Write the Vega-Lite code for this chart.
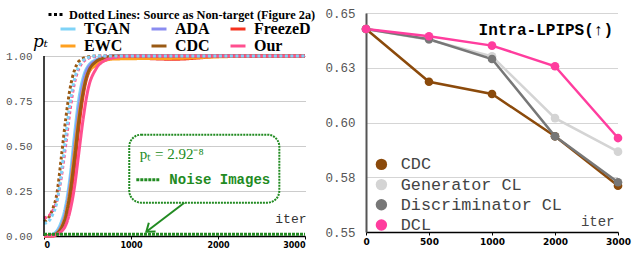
{
  "$schema": "https://vega.github.io/schema/vega-lite/v6.json",
  "background": "white",
  "padding": {"left": 5, "top": 6, "right": 5, "bottom": 5},
  "spacing": 13,
  "resolve": {"scale": {"color": "independent", "x": "independent", "y": "independent"}, "legend": {"color": "independent"}},
  "config": {"view": {"stroke": null}, "font": "Liberation Mono"},
  "datasets": {
    "curves": [
      {"m":"TGAN","k":"solid","x":0,"y":0},{"m":"TGAN","k":"solid","x":100,"y":0.01},{"m":"TGAN","k":"solid","x":150,"y":0.03},{"m":"TGAN","k":"solid","x":200,"y":0.08},{"m":"TGAN","k":"solid","x":250,"y":0.17},{"m":"TGAN","k":"solid","x":300,"y":0.33},{"m":"TGAN","k":"solid","x":350,"y":0.56},{"m":"TGAN","k":"solid","x":400,"y":0.76},{"m":"TGAN","k":"solid","x":450,"y":0.88},{"m":"TGAN","k":"solid","x":500,"y":0.94},{"m":"TGAN","k":"solid","x":600,"y":0.98},{"m":"TGAN","k":"solid","x":700,"y":0.995},{"m":"TGAN","k":"solid","x":800,"y":1},{"m":"TGAN","k":"solid","x":1000,"y":1},{"m":"TGAN","k":"solid","x":2000,"y":1},{"m":"TGAN","k":"solid","x":3000,"y":1},
      {"m":"ADA","k":"solid","x":0,"y":0},{"m":"ADA","k":"solid","x":100,"y":0.005},{"m":"ADA","k":"solid","x":150,"y":0.02},{"m":"ADA","k":"solid","x":200,"y":0.06},{"m":"ADA","k":"solid","x":250,"y":0.14},{"m":"ADA","k":"solid","x":300,"y":0.29},{"m":"ADA","k":"solid","x":350,"y":0.5},{"m":"ADA","k":"solid","x":400,"y":0.71},{"m":"ADA","k":"solid","x":450,"y":0.85},{"m":"ADA","k":"solid","x":500,"y":0.93},{"m":"ADA","k":"solid","x":600,"y":0.975},{"m":"ADA","k":"solid","x":700,"y":0.993},{"m":"ADA","k":"solid","x":800,"y":1},{"m":"ADA","k":"solid","x":1000,"y":1},{"m":"ADA","k":"solid","x":2000,"y":1},{"m":"ADA","k":"solid","x":3000,"y":1},
      {"m":"FreezeD","k":"solid","x":0,"y":0},{"m":"FreezeD","k":"solid","x":100,"y":0},{"m":"FreezeD","k":"solid","x":150,"y":0.01},{"m":"FreezeD","k":"solid","x":200,"y":0.03},{"m":"FreezeD","k":"solid","x":250,"y":0.09},{"m":"FreezeD","k":"solid","x":300,"y":0.2},{"m":"FreezeD","k":"solid","x":350,"y":0.38},{"m":"FreezeD","k":"solid","x":400,"y":0.6},{"m":"FreezeD","k":"solid","x":450,"y":0.78},{"m":"FreezeD","k":"solid","x":500,"y":0.89},{"m":"FreezeD","k":"solid","x":600,"y":0.96},{"m":"FreezeD","k":"solid","x":700,"y":0.985},{"m":"FreezeD","k":"solid","x":800,"y":0.995},{"m":"FreezeD","k":"solid","x":1000,"y":0.995},{"m":"FreezeD","k":"solid","x":1200,"y":0.986},{"m":"FreezeD","k":"solid","x":1500,"y":0.982},{"m":"FreezeD","k":"solid","x":1800,"y":0.99},{"m":"FreezeD","k":"solid","x":2000,"y":0.998},{"m":"FreezeD","k":"solid","x":3000,"y":1},
      {"m":"EWC","k":"solid","x":0,"y":0},{"m":"EWC","k":"solid","x":100,"y":0.005},{"m":"EWC","k":"solid","x":150,"y":0.015},{"m":"EWC","k":"solid","x":200,"y":0.05},{"m":"EWC","k":"solid","x":250,"y":0.12},{"m":"EWC","k":"solid","x":300,"y":0.26},{"m":"EWC","k":"solid","x":350,"y":0.46},{"m":"EWC","k":"solid","x":400,"y":0.66},{"m":"EWC","k":"solid","x":450,"y":0.81},{"m":"EWC","k":"solid","x":500,"y":0.9},{"m":"EWC","k":"solid","x":600,"y":0.95},{"m":"EWC","k":"solid","x":700,"y":0.975},{"m":"EWC","k":"solid","x":800,"y":0.983},{"m":"EWC","k":"solid","x":1000,"y":0.985},{"m":"EWC","k":"solid","x":1500,"y":0.987},{"m":"EWC","k":"solid","x":2000,"y":0.995},{"m":"EWC","k":"solid","x":2500,"y":1},{"m":"EWC","k":"solid","x":3000,"y":1},
      {"m":"CDC","k":"solid","x":0,"y":0},{"m":"CDC","k":"solid","x":100,"y":0.003},{"m":"CDC","k":"solid","x":150,"y":0.015},{"m":"CDC","k":"solid","x":200,"y":0.045},{"m":"CDC","k":"solid","x":250,"y":0.11},{"m":"CDC","k":"solid","x":300,"y":0.24},{"m":"CDC","k":"solid","x":350,"y":0.43},{"m":"CDC","k":"solid","x":400,"y":0.64},{"m":"CDC","k":"solid","x":450,"y":0.8},{"m":"CDC","k":"solid","x":500,"y":0.9},{"m":"CDC","k":"solid","x":600,"y":0.97},{"m":"CDC","k":"solid","x":700,"y":0.99},{"m":"CDC","k":"solid","x":800,"y":1},{"m":"CDC","k":"solid","x":1000,"y":1},{"m":"CDC","k":"solid","x":2000,"y":1},{"m":"CDC","k":"solid","x":3000,"y":1},
      {"m":"Our","k":"solid","x":0,"y":0},{"m":"Our","k":"solid","x":100,"y":0},{"m":"Our","k":"solid","x":150,"y":0.01},{"m":"Our","k":"solid","x":200,"y":0.025},{"m":"Our","k":"solid","x":250,"y":0.06},{"m":"Our","k":"solid","x":300,"y":0.14},{"m":"Our","k":"solid","x":350,"y":0.27},{"m":"Our","k":"solid","x":400,"y":0.46},{"m":"Our","k":"solid","x":450,"y":0.65},{"m":"Our","k":"solid","x":500,"y":0.8},{"m":"Our","k":"solid","x":600,"y":0.93},{"m":"Our","k":"solid","x":700,"y":0.975},{"m":"Our","k":"solid","x":800,"y":0.99},{"m":"Our","k":"solid","x":1000,"y":1},{"m":"Our","k":"solid","x":2000,"y":1},{"m":"Our","k":"solid","x":3000,"y":1},
      {"m":"CDC","k":"dotted","x":0,"y":0.08},{"m":"CDC","k":"dotted","x":50,"y":0.1},{"m":"CDC","k":"dotted","x":100,"y":0.15},{"m":"CDC","k":"dotted","x":150,"y":0.24},{"m":"CDC","k":"dotted","x":200,"y":0.44},{"m":"CDC","k":"dotted","x":250,"y":0.65},{"m":"CDC","k":"dotted","x":300,"y":0.82},{"m":"CDC","k":"dotted","x":350,"y":0.92},{"m":"CDC","k":"dotted","x":400,"y":0.97},{"m":"CDC","k":"dotted","x":500,"y":0.995},{"m":"CDC","k":"dotted","x":600,"y":1},{"m":"CDC","k":"dotted","x":1000,"y":1},{"m":"CDC","k":"dotted","x":3000,"y":1},
      {"m":"Our","k":"dotted","x":0,"y":0.1},{"m":"Our","k":"dotted","x":50,"y":0.11},{"m":"Our","k":"dotted","x":100,"y":0.14},{"m":"Our","k":"dotted","x":150,"y":0.2},{"m":"Our","k":"dotted","x":200,"y":0.33},{"m":"Our","k":"dotted","x":250,"y":0.51},{"m":"Our","k":"dotted","x":300,"y":0.7},{"m":"Our","k":"dotted","x":350,"y":0.85},{"m":"Our","k":"dotted","x":400,"y":0.93},{"m":"Our","k":"dotted","x":500,"y":0.985},{"m":"Our","k":"dotted","x":600,"y":0.998},{"m":"Our","k":"dotted","x":700,"y":1},{"m":"Our","k":"dotted","x":1000,"y":1},{"m":"Our","k":"dotted","x":3000,"y":1},
      {"m":"TGAN","k":"dotted","x":0,"y":0.07},{"m":"TGAN","k":"dotted","x":50,"y":0.08},{"m":"TGAN","k":"dotted","x":100,"y":0.12},{"m":"TGAN","k":"dotted","x":150,"y":0.19},{"m":"TGAN","k":"dotted","x":200,"y":0.35},{"m":"TGAN","k":"dotted","x":250,"y":0.55},{"m":"TGAN","k":"dotted","x":300,"y":0.74},{"m":"TGAN","k":"dotted","x":350,"y":0.87},{"m":"TGAN","k":"dotted","x":400,"y":0.94},{"m":"TGAN","k":"dotted","x":500,"y":0.99},{"m":"TGAN","k":"dotted","x":600,"y":1},{"m":"TGAN","k":"dotted","x":1000,"y":1},{"m":"TGAN","k":"dotted","x":3000,"y":1}
    ],
    "yline": [{"x":0,"y":0,"y2":1}],
    "noise": [{"x":0,"y":0.01},{"x":3000,"y":0.01}],
    "box": [{"x":980,"x2":2705,"y":0.563,"y2":0.185}],
    "arrow": [{"x":1613,"y":0.185,"x2":1176,"y2":0.024}],
    "arrowhead": [{"x":1176,"y":0.024}],
    "sample": [{"x":1061,"x2":1325,"y":0.313}],
    "ptext": [{"x":1100,"y":0.457,"t":"pₜ = 2.92⁻⁸"}],
    "ntext": [{"x":1441,"y":0.313,"t":"Noise Images"}],
    "lpips": [
      {"m":"CDC","iter":"0","v":0.6427},{"m":"CDC","iter":"500","v":0.6186},{"m":"CDC","iter":"1000","v":0.613},{"m":"CDC","iter":"2000","v":0.5937},{"m":"CDC","iter":"3000","v":0.5711},
      {"m":"Generator CL","iter":"0","v":0.6427},{"m":"Generator CL","iter":"500","v":0.6378},{"m":"Generator CL","iter":"1000","v":0.6302},{"m":"Generator CL","iter":"2000","v":0.602},{"m":"Generator CL","iter":"3000","v":0.5867},
      {"m":"Discriminator CL","iter":"0","v":0.6427},{"m":"Discriminator CL","iter":"500","v":0.638},{"m":"Discriminator CL","iter":"1000","v":0.629},{"m":"Discriminator CL","iter":"2000","v":0.5937},{"m":"Discriminator CL","iter":"3000","v":0.5727},
      {"m":"DCL","iter":"0","v":0.6427},{"m":"DCL","iter":"500","v":0.6394},{"m":"DCL","iter":"1000","v":0.6351},{"m":"DCL","iter":"2000","v":0.6257},{"m":"DCL","iter":"3000","v":0.5929}
    ],
    "rtitle": [{"iter":"3000","v":0.6422,"t":"Intra-LPIPS(↑)"}]
  },
  "hconcat": [
    {
      "width": 261,
      "height": 223,
      "layer": [
        {
          "data": {"name": "curves"},
          "mark": {"type": "line", "interpolate": "monotone", "strokeWidth": 3},
          "encoding": {
            "x": {"field": "x", "type": "quantitative", "scale": {"domain": [0, 3000], "nice": false},
              "axis": {"values": [0, 1000, 2000, 3000], "format": "d", "labelFont": "DejaVu Sans", "labelFontWeight": "bold", "labelFontSize": 8, "labelColor": "black", "domainColor": "black", "domainWidth": 1.5, "tickColor": "black", "tickSize": 3, "grid": false,
                "title": "iter", "titleFont": "Liberation Mono", "titleFontWeight": "normal", "titleFontSize": 13, "titleColor": "#333", "titleAlign": "right", "titleX": 262, "titleY": -18, "titleBaseline": "middle"}},
            "y": {"field": "y", "type": "quantitative", "scale": {"domain": [0, 1.2389], "nice": false},
              "axis": {"values": [0, 0.25, 0.5, 0.75, 1], "format": ".2f", "labelFont": "Liberation Mono", "labelFontSize": 11, "labelColor": "#555", "ticks": false, "labelPadding": 12, "domain": false, "grid": true, "gridColor": "#999", "gridDash": [1, 1],
                "title": "pₜ", "titleFont": "DejaVu Serif", "titleFontStyle": "italic", "titleFontWeight": "normal", "titleFontSize": 17, "titleAngle": 0, "titleX": -4, "titleY": 33, "titleAlign": "center", "titleBaseline": "alphabetic", "titleColor": "black"}},
            "color": {"field": "m", "type": "nominal",
              "scale": {"domain": ["TGAN", "ADA", "FreezeD", "EWC", "CDC", "Our"], "range": ["#7fd3f7", "#8a8cf0", "#f5321e", "#ffa020", "#9a5a14", "#ff4f8f"]},
              "legend": {"orient": "none", "legendX": 15, "legendY": 7, "columns": 3, "direction": "horizontal", "title": null, "symbolType": "stroke", "symbolSize": 225, "symbolStrokeWidth": 3, "labelFont": "Liberation Serif", "labelFontWeight": "bold", "labelFontSize": 16, "labelColor": "black", "labelOffset": 7, "columnPadding": 14, "rowPadding": 0, "padding": 0}},
            "strokeDash": {"field": "k", "type": "nominal",
              "scale": {"domain": ["solid", "dotted"], "range": [[1, 0], [3, 2.5]]},
              "legend": {"orient": "none", "legendX": 3, "legendY": -7, "values": ["dotted"], "title": null, "labelExpr": "'Dotted Lines: Source as Non-target (Figure 2a)'", "labelLimit": 400, "symbolType": "stroke", "symbolSize": 196, "symbolStrokeColor": "black", "symbolStrokeWidth": 3, "labelFont": "Liberation Serif", "labelFontWeight": "bold", "labelFontSize": 12.3, "labelColor": "black", "labelOffset": 5, "padding": 0}}
          }
        },
        {
          "data": {"name": "yline"},
          "mark": {"type": "rule", "color": "black", "strokeWidth": 1.5},
          "encoding": {"x": {"field": "x", "type": "quantitative"}, "y": {"field": "y", "type": "quantitative"}, "y2": {"field": "y2"}}
        },
        {
          "data": {"name": "noise"},
          "mark": {"type": "line", "color": "#228b22", "strokeWidth": 3, "strokeDash": [3, 1]},
          "encoding": {"x": {"field": "x", "type": "quantitative"}, "y": {"field": "y", "type": "quantitative"}}
        },
        {
          "data": {"name": "box"},
          "mark": {"type": "rect", "cornerRadius": 12, "fill": null, "stroke": "#228b22", "strokeWidth": 2, "strokeDash": [2, 1]},
          "encoding": {"x": {"field": "x", "type": "quantitative"}, "x2": {"field": "x2"}, "y": {"field": "y", "type": "quantitative"}, "y2": {"field": "y2"}}
        },
        {
          "data": {"name": "arrow"},
          "mark": {"type": "rule", "color": "#228b22", "strokeWidth": 2},
          "encoding": {"x": {"field": "x", "type": "quantitative"}, "x2": {"field": "x2"}, "y": {"field": "y", "type": "quantitative"}, "y2": {"field": "y2"}}
        },
        {
          "data": {"name": "arrowhead"},
          "mark": {"type": "point", "shape": "M -1 -0.75 L 0 0 L -1 0.75", "angle": 142.7, "size": 220, "filled": false, "stroke": "#228b22", "strokeWidth": 2, "opacity": 1},
          "encoding": {"x": {"field": "x", "type": "quantitative"}, "y": {"field": "y", "type": "quantitative"}}
        },
        {
          "data": {"name": "sample"},
          "mark": {"type": "rule", "color": "#228b22", "strokeWidth": 3, "strokeDash": [3, 1]},
          "encoding": {"x": {"field": "x", "type": "quantitative"}, "x2": {"field": "x2"}, "y": {"field": "y", "type": "quantitative"}}
        },
        {
          "data": {"name": "ptext"},
          "mark": {"type": "text", "align": "left", "baseline": "middle", "font": "Liberation Serif", "fontSize": 15, "color": "#228b22"},
          "encoding": {"x": {"field": "x", "type": "quantitative"}, "y": {"field": "y", "type": "quantitative"}, "text": {"field": "t"}}
        },
        {
          "data": {"name": "ntext"},
          "mark": {"type": "text", "align": "left", "baseline": "middle", "font": "Liberation Mono", "fontWeight": "bold", "fontSize": 14, "color": "#228b22"},
          "encoding": {"x": {"field": "x", "type": "quantitative"}, "y": {"field": "y", "type": "quantitative"}, "text": {"field": "t"}}
        }
      ]
    },
    {
      "width": 252,
      "height": 219,
      "layer": [
        {
          "data": {"name": "lpips"},
          "mark": {"type": "line", "strokeWidth": 2.5, "point": {"filled": true, "size": 75}},
          "encoding": {
            "x": {"field": "iter", "type": "ordinal", "sort": null, "scale": {"type": "point", "padding": 0, "domain": ["0", "500", "1000", "2000", "3000"]},
              "axis": {"labelFont": "DejaVu Sans", "labelFontWeight": "bold", "labelFontSize": 9, "labelColor": "black", "labelAngle": 0, "domainColor": "black", "domainWidth": 1.5, "tickColor": "black", "tickSize": 3, "grid": false,
                "title": "iter", "titleFont": "Liberation Mono", "titleFontWeight": "normal", "titleFontSize": 14, "titleColor": "#444", "titleAlign": "right", "titleX": 248, "titleY": -11, "titleBaseline": "middle"}},
            "y": {"field": "v", "type": "quantitative", "scale": {"domain": [0.55, 0.65], "nice": false, "zero": false},
              "axis": {"values": [0.55, 0.575, 0.6, 0.625, 0.65], "labelExpr": "datum.value == 0.625 ? '0.63' : datum.value == 0.575 ? '0.58' : format(datum.value, '.2f')", "labelFont": "Liberation Mono", "labelFontSize": 12.5, "labelColor": "#555", "ticks": false, "labelPadding": 11, "domainColor": "#555", "domainWidth": 2, "grid": true, "gridColor": "#aaa", "gridDash": [1, 1], "title": null}},
            "color": {"field": "m", "type": "nominal",
              "scale": {"domain": ["CDC", "Generator CL", "Discriminator CL", "DCL"], "range": ["#8b4a0b", "#d4d4d4", "#777777", "#ff3d9e"]},
              "legend": {"orient": "none", "legendX": 7, "legendY": 143, "title": null, "symbolType": "circle", "symbolSize": 130, "symbolStrokeWidth": 0, "labelFont": "Liberation Mono", "labelFontSize": 16.8, "labelLimit": 300, "labelColor": "#444", "labelOffset": 11, "rowPadding": 2.2, "padding": 0}}
          }
        },
        {
          "data": {"name": "rtitle"},
          "mark": {"type": "text", "align": "right", "baseline": "middle", "dx": -5, "font": "Liberation Mono", "fontWeight": "bold", "fontSize": 16, "color": "black"},
          "encoding": {"x": {"field": "iter", "type": "ordinal"}, "y": {"field": "v", "type": "quantitative"}, "text": {"field": "t"}}
        }
      ]
    }
  ]
}
